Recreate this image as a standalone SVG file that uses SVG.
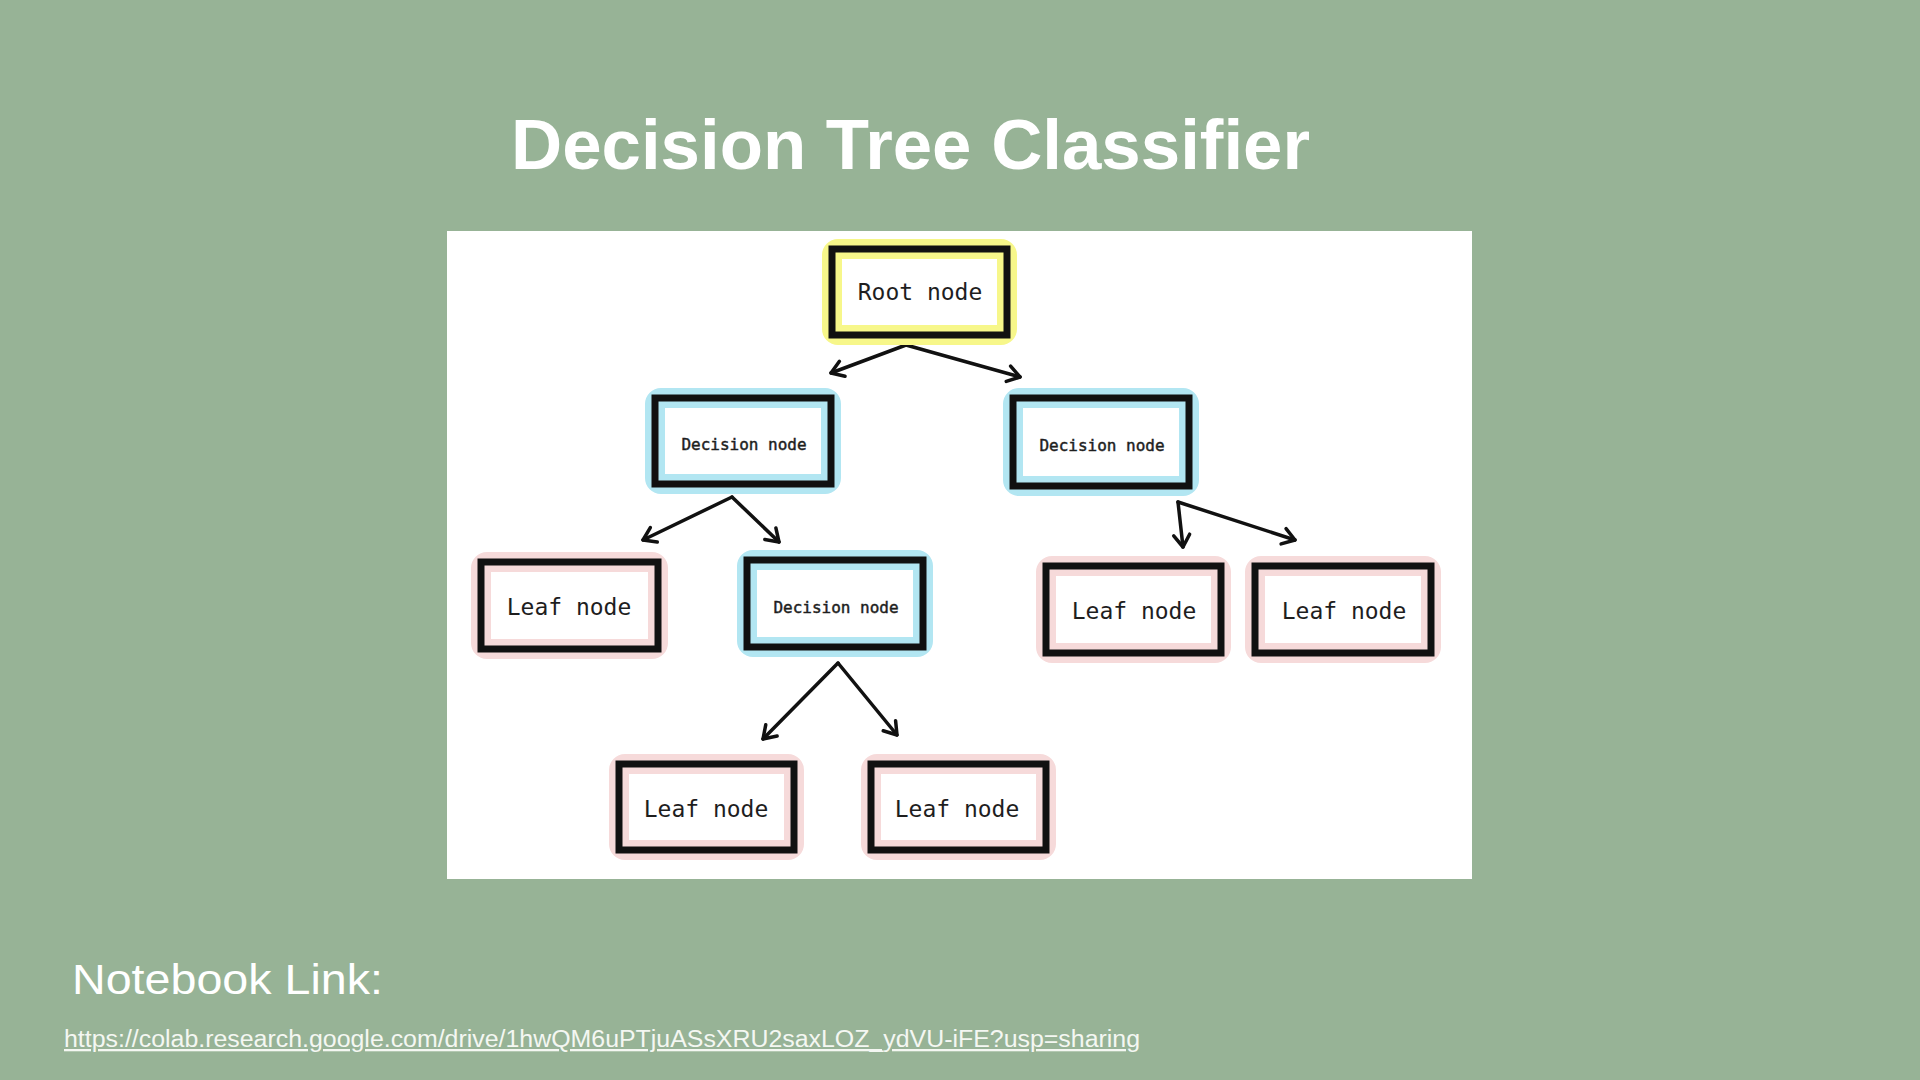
<svg xmlns="http://www.w3.org/2000/svg" width="1920" height="1080" viewBox="0 0 1920 1080">
  <defs>
    <style>
      .box { fill: none; stroke: #111111; stroke-width: 7; }
      .glow-b { fill: none; stroke: #b2e6f2; stroke-width: 20; }
      .glow-y { fill: none; stroke: #f7f78a; stroke-width: 20; }
      .glow-p { fill: none; stroke: #f6dada; stroke-width: 20; }
      .lbl { font-family: "DejaVu Sans Mono", "Liberation Mono", monospace; fill: #1e1e1e; text-anchor: middle; }
      .big { font-size: 23px; }
      .small { font-size: 16px; stroke: #1e1e1e; stroke-width: 0.45; }
      .conn { fill: none; stroke: #111111; stroke-width: 3.5; stroke-linecap: round; stroke-linejoin: round; }
    </style>
    <marker id="arr" markerUnits="userSpaceOnUse" markerWidth="30" markerHeight="30" refX="0" refY="0" viewBox="-15 -15 30 30" orient="auto" overflow="visible">
      <path d="M -12 -8 L 0 0 L -12 8" fill="none" stroke="#111111" stroke-width="3.5" stroke-linecap="round" stroke-linejoin="round"/>
    </marker>
  </defs>

  <rect x="0" y="0" width="1920" height="1080" fill="#97b396"/>

  <text x="511" y="169" font-family="Liberation Sans, Arial, sans-serif" font-size="70" font-weight="bold" fill="#ffffff" textLength="799" lengthAdjust="spacingAndGlyphs">Decision Tree Classifier</text>

  <rect x="447" y="231" width="1025" height="648" fill="#ffffff"/>

  <g id="connectors">
    <path class="conn" d="M 906 345 L 831 373" marker-end="url(#arr)"/>
    <path class="conn" d="M 906 345 L 1020 377" marker-end="url(#arr)"/>
    <path class="conn" d="M 732 497 L 643 540" marker-end="url(#arr)"/>
    <path class="conn" d="M 732 497 L 779 542" marker-end="url(#arr)"/>
    <path class="conn" d="M 1178 502 L 1183 547" marker-end="url(#arr)"/>
    <path class="conn" d="M 1178 502 L 1295 540" marker-end="url(#arr)"/>
    <path class="conn" d="M 838 663 L 763 739" marker-end="url(#arr)"/>
    <path class="conn" d="M 838 663 L 897 735" marker-end="url(#arr)"/>
  </g>

  <g id="root">
    <rect class="glow-y" x="832" y="249" width="175" height="86" rx="6"/>
    <rect class="box" x="832" y="249" width="175" height="86"/>
    <text class="lbl big" x="920" y="300">Root node</text>
  </g>

  <g id="decision-left">
    <rect class="glow-b" x="655" y="398" width="176" height="86" rx="6"/>
    <rect class="box" x="655" y="398" width="176" height="86"/>
    <text class="lbl small" x="744" y="450">Decision node</text>
  </g>

  <g id="decision-right">
    <rect class="glow-b" x="1013" y="398" width="176" height="88" rx="6"/>
    <rect class="box" x="1013" y="398" width="176" height="88"/>
    <text class="lbl small" x="1102" y="451">Decision node</text>
  </g>

  <g id="leaf-1">
    <rect class="glow-p" x="481" y="562" width="177" height="87" rx="6"/>
    <rect class="box" x="481" y="562" width="177" height="87"/>
    <text class="lbl big" x="569" y="615">Leaf node</text>
  </g>

  <g id="decision-middle">
    <rect class="glow-b" x="747" y="560" width="176" height="87" rx="6"/>
    <rect class="box" x="747" y="560" width="176" height="87"/>
    <text class="lbl small" x="836" y="613">Decision node</text>
  </g>

  <g id="leaf-2">
    <rect class="glow-p" x="1046" y="566" width="175" height="87" rx="6"/>
    <rect class="box" x="1046" y="566" width="175" height="87"/>
    <text class="lbl big" x="1134" y="619">Leaf node</text>
  </g>

  <g id="leaf-3">
    <rect class="glow-p" x="1255" y="566" width="176" height="87" rx="6"/>
    <rect class="box" x="1255" y="566" width="176" height="87"/>
    <text class="lbl big" x="1344" y="619">Leaf node</text>
  </g>

  <g id="leaf-4">
    <rect class="glow-p" x="619" y="764" width="175" height="86" rx="6"/>
    <rect class="box" x="619" y="764" width="175" height="86"/>
    <text class="lbl big" x="706" y="817">Leaf node</text>
  </g>

  <g id="leaf-5">
    <rect class="glow-p" x="871" y="764" width="175" height="86" rx="6"/>
    <rect class="box" x="871" y="764" width="175" height="86"/>
    <text class="lbl big" x="957" y="817">Leaf node</text>
  </g>

  <text x="72" y="994" font-family="Liberation Sans, Arial, sans-serif" font-size="43" fill="#ffffff" textLength="311" lengthAdjust="spacingAndGlyphs">Notebook Link:</text>
  <text x="64" y="1047" font-family="Liberation Sans, Arial, sans-serif" font-size="23" fill="#f4f7f2" text-decoration="underline" textLength="1076" lengthAdjust="spacingAndGlyphs">https://colab.research.google.com/drive/1hwQM6uPTjuASsXRU2saxLOZ_ydVU-iFE?usp=sharing</text>
</svg>
